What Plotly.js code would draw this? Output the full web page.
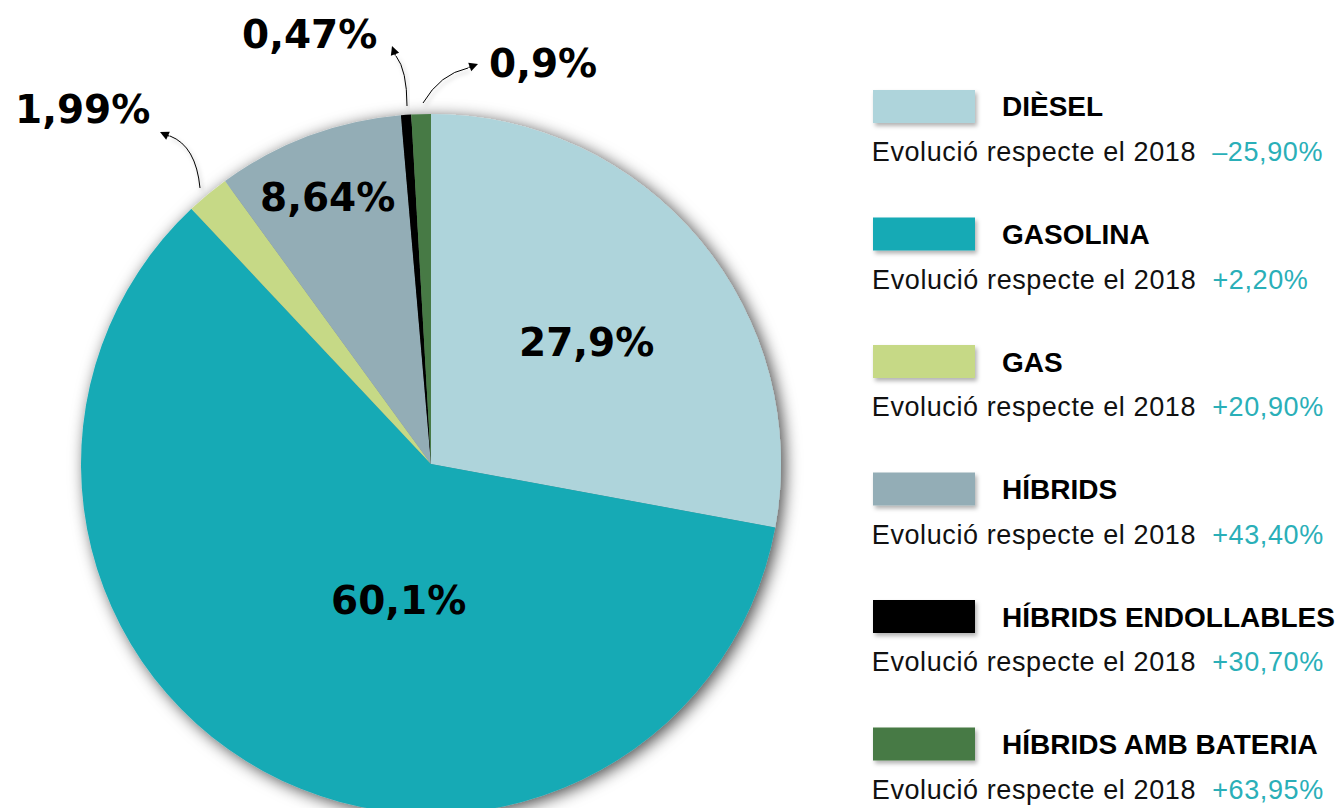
<!DOCTYPE html>
<html>
<head>
<meta charset="utf-8">
<script src="https://cdn.plot.ly/plotly-3.0.1.min.js"></script>
<style>
  html, body { margin: 0; padding: 0; background: #fff; overflow: hidden; }
  #chart { width: 1336px; height: 830px; }
</style>
</head>
<body>
<div id="chart"></div>
<script>
// ---- data ----
const categories = ['DIÈSEL', 'GASOLINA', 'GAS', 'HÍBRIDS', 'HÍBRIDS ENDOLLABLES', 'HÍBRIDS AMB BATERIA'];
const shares = [27.9, 60.1, 1.99, 8.64, 0.47, 0.9];
const shareLabels = ['27,9%', '60,1%', '1,99%', '8,64%', '0,47%', '0,9%'];
const evolutionLabel = 'Evolució respecte el 2018';
const evolution = ['–25,90%', '+2,20%', '+20,90%', '+43,40%', '+30,70%', '+63,95%'];
const colors = ['#AED4DB', '#19AAB5', '#C6D986', '#93ADB6', '#000000', '#467A45'];

// ---- layout helpers (pixel -> paper) ----
const W = 1336, H = 830;
const px = x => x / W;
const py = y => 1 - y / H;
const P = (x, y) => px(x) + ' ' + py(y);

const pieCx = 431, pieCy = 464, pieR = 350;

const trace = {
  type: 'pie',
  labels: categories,
  values: shares,
  marker: { colors: colors, line: { width: 0 } },
  sort: false,
  direction: 'clockwise',
  rotation: 0,
  textinfo: 'none',
  hoverinfo: 'label+percent',
  showlegend: false,
  domain: { x: [px(pieCx - pieR), px(pieCx + pieR)], y: [py(pieCy + pieR), py(pieCy - pieR)] }
};

// percent label positions (pixel centres)
const labelPos = [[586, 342], [398, 600], [82, 110], [327, 197], [309, 35], [543, 63]];
const annotations = [];
shareLabels.forEach((t, i) => {
  annotations.push({
    xref: 'paper', yref: 'paper', x: px(labelPos[i][0]), y: py(labelPos[i][1]),
    xanchor: 'center', yanchor: 'middle', showarrow: false,
    text: '<b>' + t + '</b>',
    font: { family: 'DejaVu Sans', size: 39, color: '#000' }
  });
});

// arrowheads for the small slices
const arrowHeads = [
  { tip: [160, 132], tail: [11, 5] },
  { tip: [392, 46], tail: [4, 11] },
  { tip: [478, 64], tail: [-11, 4] }
];
arrowHeads.forEach(a => {
  annotations.push({
    xref: 'paper', yref: 'paper', x: px(a.tip[0]), y: py(a.tip[1]),
    ax: a.tail[0], ay: a.tail[1], text: '', showarrow: true,
    arrowhead: 2, arrowsize: 1.6, arrowwidth: 1.1, arrowcolor: '#000', standoff: 0
  });
});

// curved leader lines
const shapes = [
  { type: 'path', xref: 'paper', yref: 'paper', path: 'M ' + P(200, 188) + ' Q ' + P(196, 146) + ' ' + P(170, 136), line: { color: '#000', width: 1 } },
  { type: 'path', xref: 'paper', yref: 'paper', path: 'M ' + P(407, 106) + ' Q ' + P(407, 70) + ' ' + P(396, 56), line: { color: '#000', width: 1 } },
  { type: 'path', xref: 'paper', yref: 'paper', path: 'M ' + P(423, 103) + ' Q ' + P(440, 74) + ' ' + P(468, 68), line: { color: '#000', width: 1 } }
];

// custom legend
const rowStep = 127.5;
const evoIdx = [];
categories.forEach((c, i) => {
  const top = 90 + i * rowStep;
  shapes.push({
    type: 'rect', xref: 'paper', yref: 'paper',
    x0: px(873), x1: px(975), y0: py(top), y1: py(top + 33),
    fillcolor: colors[i], line: { width: 0 }
  });
  annotations.push({
    xref: 'paper', yref: 'paper', x: px(1000), y: py(top + 17),
    xanchor: 'left', yanchor: 'middle', showarrow: false,
    text: '<b>' + c + '</b>',
    font: { family: 'Liberation Sans', size: 28, color: '#000' }
  });
  evoIdx.push(annotations.length);
  annotations.push({
    xref: 'paper', yref: 'paper', x: px(880), y: py(top + 62),
    xanchor: 'left', yanchor: 'middle', showarrow: false,
    text: evolutionLabel + '\u00A0\u00A0<span style="color:#2AAFB8">' + evolution[i] + '</span>',
    font: { family: 'Liberation Sans', size: 27, color: '#111' }
  });
});

const layout = {
  width: W, height: H,
  margin: { l: 0, r: 0, t: 0, b: 0, pad: 0 },
  paper_bgcolor: '#fff', plot_bgcolor: '#fff',
  showlegend: false,
  annotations: annotations,
  shapes: shapes
};

Plotly.newPlot('chart', [trace], layout, { displayModeBar: false, staticPlot: true }).then(gd => {
  const svg = gd.querySelector('svg.main-svg');
  const NS = 'http://www.w3.org/2000/svg';
  const defs = document.createElementNS(NS, 'defs');
  defs.innerHTML =
    '<filter id="pieShadow" x="-10%" y="-10%" width="125%" height="125%">' +
    '<feDropShadow dx="4" dy="3" stdDeviation="8" flood-color="#000" flood-opacity="0.7"/></filter>' +
    '<filter id="rectShadow" x="-10%" y="-20%" width="130%" height="160%">' +
    '<feDropShadow dx="2" dy="3" stdDeviation="2" flood-color="#000" flood-opacity="0.3"/></filter>';
  svg.insertBefore(defs, svg.firstChild);
  const pieTrace = gd.querySelector('.pielayer .trace');
  if (pieTrace) pieTrace.setAttribute('filter', 'url(#pieShadow)');
  gd.querySelectorAll('.shapelayer path').forEach(p => {
    const f = p.style.fill || p.getAttribute('fill');
    if (f && f !== 'none' && !/rgba\(0, 0, 0, 0\)/.test(f)) p.setAttribute('filter', 'url(#rectShadow)');
  });
  evoIdx.forEach(k => {
    const a = gd.querySelector('.annotation[data-index="' + k + '"] text');
    if (a) a.setAttribute('letter-spacing', '0.6');
  });
});
</script>
</body>
</html>
